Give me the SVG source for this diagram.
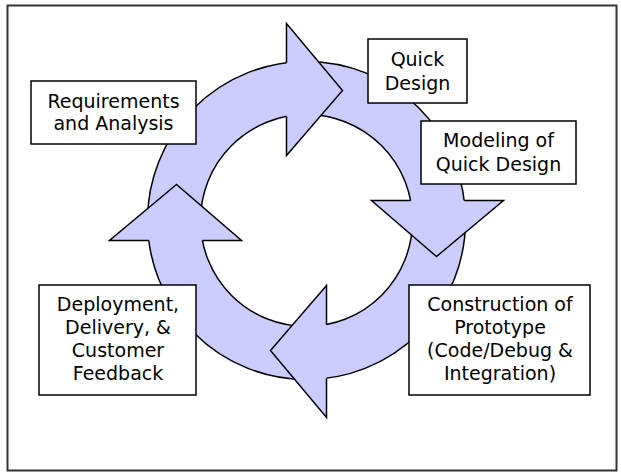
<svg xmlns="http://www.w3.org/2000/svg" xmlns:xlink="http://www.w3.org/1999/xlink" width="621" height="474" viewBox="0 0 621 474">
  <style>
    .ring { fill: #ccccff; fill-rule: evenodd; stroke: #000; stroke-width: 1.5; }
    .headfill { fill: #ccccff; stroke: none; }
    .headline { fill: none; stroke: #000; stroke-width: 1.5; stroke-linejoin: miter; }
    .box { fill: #fff; stroke: #000; stroke-width: 1.5; }
    .lbl { font-family: "DejaVu Sans", Verdana, sans-serif; font-size: 19px; fill: #000; text-anchor: middle; }
  </style>
  <defs>
    <polygon id="headShape" class="headfill" points="-20,-197 36,-130 -20,-65"/>
    <polyline id="headEdge" class="headline" points="-20,-157.7 -20,-197 36,-130 -20,-65 -20,-104.1"/>
  </defs>
  <rect x="0" y="0" width="621" height="474" fill="#fff"/>
  <rect x="7.5" y="5.5" width="609" height="465" fill="none" stroke="#333" stroke-width="2"/>

  <g id="connectors" transform="translate(306.5 220.5)">
    <path class="ring" d="M -159,0 A 159,159 0 1,0 159,0 A 159,159 0 1,0 -159,0 Z M -106,0 A 106,106 0 1,0 106,0 A 106,106 0 1,0 -106,0 Z"/>
    <use xlink:href="#headShape" href="#headShape"/>
    <use xlink:href="#headShape" href="#headShape" transform="rotate(90)"/>
    <use xlink:href="#headShape" href="#headShape" transform="rotate(180)"/>
    <use xlink:href="#headShape" href="#headShape" transform="rotate(270)"/>
    <use xlink:href="#headEdge" href="#headEdge"/>
    <use xlink:href="#headEdge" href="#headEdge" transform="rotate(90)"/>
    <use xlink:href="#headEdge" href="#headEdge" transform="rotate(180)"/>
    <use xlink:href="#headEdge" href="#headEdge" transform="rotate(270)"/>
  </g>

  <g id="node-requirements">
    <rect class="box" x="31" y="81" width="165" height="63"/>
    <text class="lbl" x="113.5" y="108">Requirements</text>
    <text class="lbl" x="113.5" y="130">and Analysis</text>
  </g>
  <g id="node-quick-design">
    <rect class="box" x="368" y="39" width="99" height="64"/>
    <text class="lbl" x="417.5" y="65.5">Quick</text>
    <text class="lbl" x="417.5" y="89.5">Design</text>
  </g>
  <g id="node-modeling">
    <rect class="box" x="421" y="121" width="155" height="63"/>
    <text class="lbl" x="498.5" y="147">Modeling of</text>
    <text class="lbl" x="498.5" y="171">Quick Design</text>
  </g>
  <g id="node-construction">
    <rect class="box" x="409" y="285" width="181" height="110"/>
    <text class="lbl" x="500" y="311">Construction of</text>
    <text class="lbl" x="500" y="334">Prototype</text>
    <text class="lbl" x="500" y="357">(Code/Debug &amp;</text>
    <text class="lbl" x="500" y="380">Integration)</text>
  </g>
  <g id="node-deployment">
    <rect class="box" x="39" y="285" width="157" height="110"/>
    <text class="lbl" x="118" y="311">Deployment,</text>
    <text class="lbl" x="118" y="334">Delivery, &amp;</text>
    <text class="lbl" x="118" y="357">Customer</text>
    <text class="lbl" x="118" y="380">Feedback</text>
  </g>
</svg>
